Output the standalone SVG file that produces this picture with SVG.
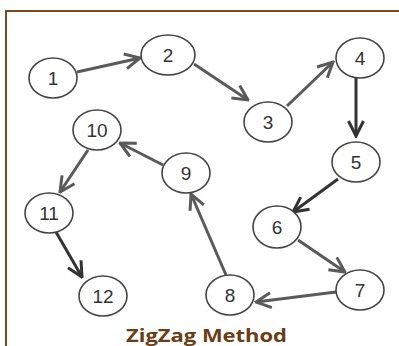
<svg xmlns="http://www.w3.org/2000/svg" width="399" height="346" viewBox="0 0 399 346">
<style>
.n ellipse{fill:#fff;stroke:#444;stroke-width:1.6}
.n text{font-family:"Liberation Sans",Arial,sans-serif;font-size:19px;fill:#333;text-anchor:middle}
.e{stroke:#5a5a5a;stroke-width:3;fill:none;marker-end:url(#ah)}
.d{stroke:#333}
.t{font-family:"Open Sans","Liberation Sans",sans-serif;font-weight:bold;font-size:18px;fill:#6b3d14}
</style>
<defs>
<marker id="ah" viewBox="0 0 12 12" refX="11" refY="6" markerWidth="6" markerHeight="6" orient="auto" markerUnits="strokeWidth">
<path d="M1,1 L11,6 L1,11" fill="none" stroke="context-stroke" stroke-width="2"/>
</marker>
</defs>
<rect x="0" y="0" width="399" height="346" fill="#fff"/>
<path d="M6,346 V11 H399" fill="none" stroke="#7a4a1e" stroke-width="2"/>
<g id="connectors">
<line class="e" x1="77" y1="72" x2="140" y2="58"/>
<line class="e" x1="194" y1="64" x2="248" y2="100"/>
<line class="e" x1="287" y1="106" x2="333" y2="62"/>
<line class="e d" x1="356" y1="78" x2="356" y2="136"/>
<line class="e d" x1="338" y1="179" x2="293" y2="212"/>
<line class="e" x1="298" y1="240" x2="345" y2="272"/>
<line class="e" x1="336" y1="292" x2="256" y2="302"/>
<line class="e" x1="226" y1="275" x2="191" y2="194"/>
<line class="e" x1="163" y1="165" x2="120" y2="143"/>
<line class="e" x1="88" y1="150" x2="60" y2="192"/>
<line class="e d" x1="56" y1="232" x2="82" y2="277"/>
</g>
<g id="node1" class="n"><ellipse cx="53" cy="78" rx="24" ry="20"/><text x="53" y="85">1</text></g>
<g id="node2" class="n"><ellipse cx="168" cy="55" rx="27" ry="20"/><text x="168" y="62">2</text></g>
<g id="node3" class="n"><ellipse cx="268" cy="122" rx="24" ry="20"/><text x="268" y="129">3</text></g>
<g id="node4" class="n"><ellipse cx="360" cy="58" rx="24" ry="20"/><text x="360" y="65">4</text></g>
<g id="node5" class="n"><ellipse cx="356" cy="162" rx="24" ry="20"/><text x="356" y="169">5</text></g>
<g id="node6" class="n"><ellipse cx="277" cy="227" rx="24" ry="21"/><text x="277" y="234">6</text></g>
<g id="node7" class="n"><ellipse cx="360" cy="290" rx="24" ry="20"/><text x="360" y="297">7</text></g>
<g id="node8" class="n"><ellipse cx="230" cy="295" rx="24" ry="20"/><text x="230" y="302">8</text></g>
<g id="node9" class="n"><ellipse cx="186" cy="173" rx="24" ry="20"/><text x="186" y="180">9</text></g>
<g id="node10" class="n"><ellipse cx="97" cy="130" rx="24" ry="20"/><text x="97" y="137">10</text></g>
<g id="node11" class="n"><ellipse cx="49" cy="213" rx="24" ry="20"/><text x="49" y="220">11</text></g>
<g id="node12" class="n"><ellipse cx="103" cy="296" rx="24" ry="20"/><text x="103" y="303">12</text></g>
<text class="t" x="126" y="342" textLength="161" lengthAdjust="spacingAndGlyphs">ZigZag Method</text>
</svg>
